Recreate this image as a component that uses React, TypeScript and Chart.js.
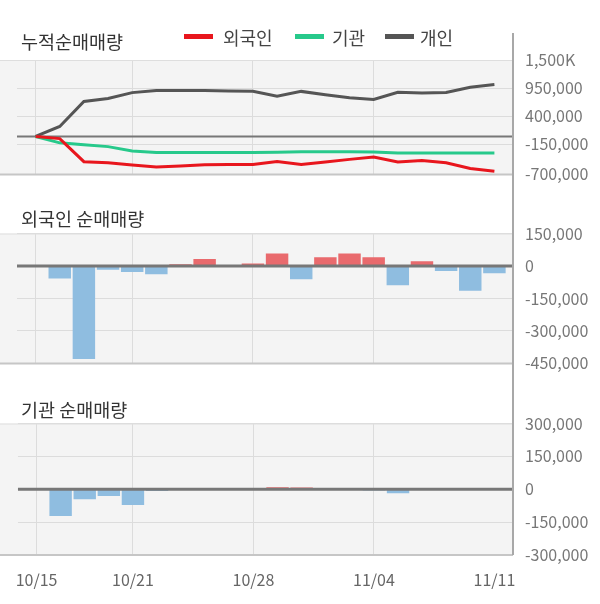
import React, { useEffect, useRef } from "react";
import { Chart, registerables } from "chart.js";

Chart.register(...registerables);

const FONT = '"Noto Sans CJK KR", "Noto Sans", sans-serif';

// trading days (category positions)
const dates = [
  "10/15", "10/16", "10/17", "10/18", "10/21", "10/22", "10/23", "10/24", "10/25", "10/28",
  "10/29", "10/30", "10/31", "11/01", "11/04", "11/05", "11/06", "11/07", "11/08", "11/11",
];
const labeledDates = ["10/15", "10/21", "10/28", "11/04", "11/11"];
const gridDates = ["10/15", "10/21", "10/28", "11/04"];

// cumulative net buying
const foreignCum = [0, -42000, -495000, -518000, -560000, -598000, -580000, -555000, -552000, -552000, -490000, -552000, -500000, -450000, -405000, -500000, -474000, -518000, -630000, -682000];
const instCum = [0, -126000, -165000, -200000, -285000, -315000, -315000, -315000, -315000, -315000, -308000, -300000, -300000, -300000, -305000, -324000, -324000, -324000, -324000, -324000];
const indivCum = [0, 196000, 686000, 745000, 860000, 900000, 903000, 903000, 890000, 885000, 790000, 884000, 820000, 760000, 725000, 868000, 852000, 862000, 965000, 1017000];

// daily net buying
const foreignNet = [0, -58000, -430000, -18000, -28000, -38000, 8000, 32000, 0, 12000, 58000, -61000, 40000, 58000, 40000, -89000, 22000, -23000, -115000, -34000];
const instNet = [0, -122000, -46000, -31000, -72000, -8000, 0, 0, 0, 0, 9000, 8000, 0, 0, -6000, -18000, 0, 0, 0, 0];

// axis ticks
const cumTicks = [-745000, -150000, 400000, 950000, 1500000];
const cumTickLabels = ["-700,000", "-150,000", "400,000", "950,000", "1,500K"];
const foreignTicks = [-450000, -300000, -150000, 0, 150000];
const foreignTickLabels = ["-450,000", "-300,000", "-150,000", "0", "150,000"];
const instTicks = [-300000, -150000, 0, 150000, 300000];
const instTickLabels = ["-300,000", "-150,000", "0", "150,000", "300,000"];

const seriesNames = ["외국인", "기관", "개인"];
const seriesColors = ["#e8161d", "#27c98b", "#555555"];
const UP = "#e96a6d";
const DOWN = "#8fbde0";

const decor = {
  id: "decor",
  beforeDraw(chart: any) {
    const { ctx, chartArea: a } = chart;
    ctx.save();
    ctx.fillStyle = "#f4f4f4";
    ctx.fillRect(0, a.top, a.right, a.bottom - a.top);
    ctx.restore();
  },
  beforeDatasetsDraw(chart: any, _args: any, opts: any) {
    const { ctx, chartArea: a } = chart;
    ctx.save();
    ctx.strokeStyle = "#dedede";
    ctx.lineWidth = 1;
    ctx.beginPath();
    ctx.moveTo(0, a.top + 0.5);
    ctx.lineTo(a.right, a.top + 0.5);
    ctx.stroke();
    ctx.strokeStyle = "#c6c6c6";
    ctx.lineWidth = 2;
    ctx.beginPath();
    ctx.moveTo(0, a.bottom);
    ctx.lineTo(a.right, a.bottom);
    ctx.stroke();
    ctx.restore();
    if (!opts.zeroOnTop) drawZero(chart, opts);
  },
  afterDatasetsDraw(chart: any, _args: any, opts: any) {
    if (opts.zeroOnTop) drawZero(chart, opts);
  },
};

function drawZero(chart: any, opts: any) {
  const { ctx, chartArea: a, scales } = chart;
  const y = scales.y.getPixelForValue(0);
  ctx.save();
  ctx.strokeStyle = "#777777";
  ctx.lineWidth = opts.zeroWidth || 2;
  ctx.beginPath();
  ctx.moveTo(a.left, y);
  ctx.lineTo(a.right, y);
  ctx.stroke();
  ctx.restore();
}

type Spec = {
  top: number;
  height: number;
  padTop: number;
  padBottom: number;
  type: "line" | "bar";
  datasets: any[];
  yTicks: number[];
  yLabels: string[];
  showX: boolean;
  zeroOnTop: boolean;
  zeroWidth: number;
};

function Panel({ spec }: { spec: Spec }) {
  const ref = useRef<HTMLCanvasElement | null>(null);
  useEffect(() => {
    if (!ref.current) return;
    const yMin = spec.yTicks[0];
    const yMax = spec.yTicks[spec.yTicks.length - 1];
    const chart = new Chart(ref.current, {
      type: spec.type,
      data: { datasets: spec.datasets },
      plugins: [decor as any],
      options: {
        responsive: false,
        animation: false,
        devicePixelRatio: 1,
        events: [],
        layout: { padding: { left: 17, right: 0, top: spec.padTop, bottom: spec.padBottom } },
        plugins: {
          legend: { display: false },
          tooltip: { enabled: false },
          decor: { zeroOnTop: spec.zeroOnTop, zeroWidth: spec.zeroWidth },
        } as any,
        scales: {
          x: {
            type: "linear",
            min: -0.77,
            max: 19.77,
            offset: false,
            afterBuildTicks: (s: any) => {
              s.ticks = labeledDates.map((d) => ({ value: dates.indexOf(d) }));
            },
            afterFit: (s: any) => {
              if (spec.showX) s.height = 40;
            },
            ticks: {
              display: spec.showX,
              autoSkip: false,
              maxRotation: 0,
              padding: 15,
              color: "#666",
              font: { family: FONT, size: 16 },
              callback: (v: any) => dates[v],
            },
            grid: {
              offset: false,
              drawTicks: false,
              lineWidth: 1,
              color: (c: any) =>
                c.tick && gridDates.includes(dates[c.tick.value]) ? "#dcdcdc" : "rgba(0,0,0,0)",
            },
            border: { display: false },
          },
          y: {
            position: "right",
            min: yMin,
            max: yMax,
            afterBuildTicks: (s: any) => {
              s.ticks = spec.yTicks.map((v) => ({ value: v }));
            },
            afterFit: (s: any) => {
              s.width = 87;
            },
            ticks: {
              autoSkip: false,
              padding: 12,
              color: "#777",
              font: { family: FONT, size: 16 },
              callback: (v: any) => spec.yLabels[spec.yTicks.indexOf(v)],
            },
            grid: { drawTicks: false, color: "#dcdcdc", lineWidth: 1 },
            border: { display: false },
          },
        },
      } as any,
    });
    return () => chart.destroy();
  }, []);
  return (
    <canvas
      ref={ref}
      width={600}
      height={spec.height}
      style={{ position: "absolute", left: 0, top: spec.top, width: 600, height: spec.height }}
    />
  );
}

const xy = (arr: number[]) => arr.map((v, i) => ({ x: i, y: v }));

const lineSpec: Spec = {
  top: 0,
  height: 196,
  padTop: 60,
  padBottom: 20,
  type: "line",
  datasets: [
    { label: seriesNames[0], data: xy(foreignCum), borderColor: seriesColors[0], borderWidth: 3, pointRadius: 0, tension: 0 },
    { label: seriesNames[1], data: xy(instCum), borderColor: seriesColors[1], borderWidth: 3, pointRadius: 0, tension: 0 },
    { label: seriesNames[2], data: xy(indivCum), borderColor: seriesColors[2], borderWidth: 3, pointRadius: 0, tension: 0 },
  ],
  yTicks: cumTicks,
  yLabels: cumTickLabels,
  showX: false,
  zeroOnTop: false,
  zeroWidth: 2,
};

const barDataset = (arr: number[]) => ({
  data: xy(arr),
  backgroundColor: arr.map((v) => (v >= 0 ? UP : DOWN)),
  borderWidth: 0,
  barPercentage: 0.93,
  categoryPercentage: 1,
});

const foreignSpec: Spec = {
  top: 190,
  height: 195,
  padTop: 43.5,
  padBottom: 20,
  type: "bar",
  datasets: [barDataset(foreignNet)],
  yTicks: foreignTicks,
  yLabels: foreignTickLabels,
  showX: false,
  zeroOnTop: true,
  zeroWidth: 3,
};

const instSpec: Spec = {
  top: 380,
  height: 224,
  padTop: 43.5,
  padBottom: 9,
  type: "bar",
  datasets: [barDataset(instNet)],
  yTicks: instTicks,
  yLabels: instTickLabels,
  showX: true,
  zeroOnTop: true,
  zeroWidth: 3,
};

const titleStyle = (top: number): React.CSSProperties => ({
  position: "absolute",
  left: 21,
  top: top - 13,
  height: 26,
  lineHeight: "26px",
  fontSize: 18.5,
  color: "#333",
  fontFamily: FONT,
  whiteSpace: "nowrap",
});

const swatchLefts = [184, 295, 385];
const textLefts = [223, 332, 420];

export default function App() {
  return (
    <div
      style={{
        position: "fixed",
        left: 0,
        top: 0,
        width: 600,
        height: 604,
        background: "#fff",
        overflow: "hidden",
        fontFamily: FONT,
      }}
    >
      <Panel spec={lineSpec} />
      <Panel spec={foreignSpec} />
      <Panel spec={instSpec} />
      <div style={titleStyle(41)}>누적순매매량</div>
      <div style={titleStyle(218)}>외국인 순매매량</div>
      <div style={titleStyle(409)}>기관 순매매량</div>
      {seriesNames.map((n, i) => (
        <React.Fragment key={n}>
          <div
            style={{
              position: "absolute",
              left: swatchLefts[i],
              top: 34,
              width: 29,
              height: 5,
              background: seriesColors[i],
            }}
          />
          <div
            style={{
              position: "absolute",
              left: textLefts[i],
              top: 24,
              height: 26,
              lineHeight: "26px",
              fontSize: 18,
              color: "#444",
              whiteSpace: "nowrap",
            }}
          >
            {n}
          </div>
        </React.Fragment>
      ))}
      <div
        style={{
          position: "absolute",
          left: 512,
          top: 33,
          width: 2,
          height: 522,
          background: "#a8a8a8",
        }}
      />
    </div>
  );
}
